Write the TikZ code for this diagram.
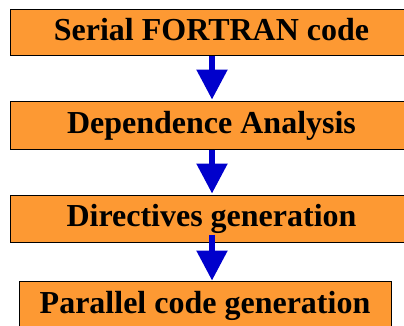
\documentclass[tikz,border=0pt]{standalone}
\usepackage{fontspec}
\setmainfont{Liberation Serif}
\usepackage{tikz}
\usetikzlibrary{arrows.meta}

\definecolor{boxorange}{RGB}{253,153,51}
\definecolor{flowblue}{RGB}{0,0,204}

\begin{document}
\begin{tikzpicture}[x=1pt,y=-1pt,
    stage/.style={draw=black, line width=1pt, fill=boxorange, inner sep=0pt,
      minimum height=47pt, text height=22pt, text depth=6pt,
      font=\fontsize{32}{36}\selectfont\bfseries},
    flow/.style={draw=flowblue, line width=5.5pt,
      -{Triangle[width=30pt,length=30pt]}}]
    % picture frame
    \clip (0,0) rectangle (404,325);

    % draw boxes
    \node[stage, minimum width=403pt, minimum height=46pt] (serial) at (211.5,32) {Serial FORTRAN code};
    \node[stage, minimum width=403pt, minimum height=48pt] (depend) at (211.5,125) {Dependence Analysis};
    \node[stage, minimum width=403pt] (direct) at (211.5,218.5) {Directives generation};
    \node[stage, minimum width=372pt, minimum height=48pt] (parallel) at (205,305) {Parallel code generation};

    % draw arrows
    \coordinate (axis) at (212,0);
    \draw[flow] (serial.south -| axis) -- ([yshift=1pt]depend.north -| axis);
    \draw[flow] (depend.south -| axis) -- ([yshift=1pt]direct.north -| axis);
    \draw[flow] ([yshift=8pt]direct.south -| axis) -- (parallel.north -| axis);
\end{tikzpicture}
\end{document}
